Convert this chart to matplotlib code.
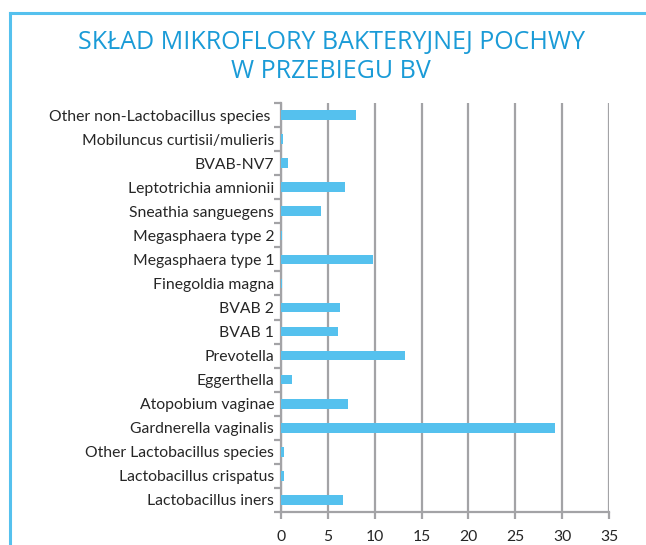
import numpy as np
import matplotlib.pyplot as plt
from matplotlib.lines import Line2D

categories = ["Lactobacillus iners", "Lactobacillus crispatus", "Other Lactobacillus species",
              "Gardnerella vaginalis", "Atopobium vaginae", "Eggerthella", "Prevotella",
              "BVAB 1", "BVAB 2", "Finegoldia magna", "Megasphaera type 1",
              "Megasphaera type 2", "Sneathia sanguegens", "Leptotrichia amnionii",
              "BVAB-NV7", "Mobiluncus curtisii/mulieris", "Other non-Lactobacillus species "]
values = [6.6, 0.3, 0.3, 29.2, 7.1, 1.2, 13.2, 6.1, 6.3, 0.1, 9.8, 0.1, 4.3, 6.8, 0.8, 0.2, 8.0]
xticks = [0, 5, 10, 15, 20, 25, 30, 35]

title = "SKŁAD MIKROFLORY BAKTERYJNEJ POCHWY\nW PRZEBIEGU BV"

plt.rcParams['font.family'] = ['Lato', 'DejaVu Sans']

fig = plt.figure(figsize=(6.46, 5.45), dpi=100)
ax = fig.add_axes([281/646, 33/545, 328/646, 409/545])

y = np.arange(len(categories))
ax.barh(y, values, height=0.4, color='#55c1ee', zorder=3)

ax.set_xlim(0, 35)
ax.set_ylim(-0.5, len(categories) - 0.5)
ax.set_xticks(xticks)
ax.set_yticks(y)
ax.set_yticklabels(categories)
ax.set_yticks(np.arange(len(categories) + 1) - 0.5, minor=True)

grid_c = '#a3a3a6'
ax.grid(axis='x', color=grid_c, linewidth=1.6, zorder=0)
for s in ['top', 'right']:
    ax.spines[s].set_visible(False)
for s in ['left', 'bottom']:
    ax.spines[s].set_color(grid_c)
    ax.spines[s].set_linewidth(1.6)

ax.tick_params(axis='y', which='major', length=0, pad=5, labelsize=11.3, labelcolor='#262626')
ax.tick_params(axis='y', which='minor', length=5, width=1.6, color=grid_c)
ax.tick_params(axis='x', length=5, width=1.6, color=grid_c, labelsize=11.3, labelcolor='#262626', pad=8)

fig.text(331/646, 1 - 57/545, title, ha='center', va='center', color='#1a9bd7',
         fontsize=18, linespacing=1.25, family=['Open Sans', 'DejaVu Sans'])

# frame lines top and left
fig.add_artist(Line2D([10/646, 1], [1 - 13/545, 1 - 13/545], color='#55c1ee', linewidth=2.2,
                      transform=fig.transFigure))
fig.add_artist(Line2D([10/646, 10/646], [0, 1 - 13/545], color='#55c1ee', linewidth=2.2,
                      transform=fig.transFigure))

fig.savefig('out.png', dpi=100)
